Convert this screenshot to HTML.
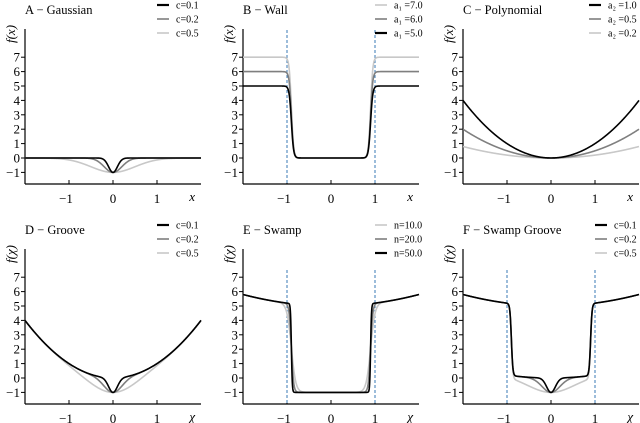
<!DOCTYPE html>
<html><head><meta charset="utf-8"><style>
html,body{margin:0;padding:0;background:#fff;}
svg{display:block;font-family:"Liberation Serif",serif;}
</style></head><body>
<svg id="chart" width="640" height="423" viewBox="0 0 640 423" xmlns="http://www.w3.org/2000/svg"></svg>
<script>
// ---- data ----
const yTicks = [-1,0,1,2,3,4,5,6,7];
const xTicks = [-1,0,1];
const gaussC = [0.1,0.2,0.5];
const wallA1 = [7.0,6.0,5.0];
const polyA2 = [1.0,0.5,0.2];
const grooveC = [0.1,0.2,0.5];
const swampN = [10.0,20.0,50.0];
const swampGrooveC = [0.1,0.2,0.5];

const NS='http://www.w3.org/2000/svg';
const svg=document.getElementById('chart');
function el(tag,attrs,parent){const e=document.createElementNS(NS,tag);for(const k in attrs)e.setAttribute(k,attrs[k]);(parent||svg).appendChild(e);return e;}
const sig=z=>1/(1+Math.exp(-z));
const shades={k:'#000',g:'#7f7f7f',l:'#c8c8c8'};

const panels=[
 {id:'a',title:'A − Gaussian',x0:25,row:0,params:gaussC,colors:['k','g','l'],leg:p=>'c='+p,xl:'x',
  f:(x,c)=>-Math.exp(-x*x/(2*c*c)),walls:false},
 {id:'b',title:'B − Wall',x0:243,row:0,params:wallA1,colors:['l','g','k'],leg:p=>'a₁ ='+p.toFixed(1),xl:'x',
  f:(x,a)=>a*sig(40*(Math.abs(x)-0.9)),walls:true},
 {id:'c',title:'C − Polynomial',x0:463,row:0,params:polyA2,colors:['k','g','l'],leg:p=>'a₂ ='+p.toFixed(1),xl:'x',
  f:(x,a)=>a*x*x,walls:false},
 {id:'d',title:'D − Groove',x0:25,row:1,params:grooveC,colors:['k','g','l'],leg:p=>'c='+p,xl:'χ',
  f:(x,c)=>x*x-Math.exp(-x*x/(2*c*c)),walls:false},
 {id:'e',title:'E − Swamp',x0:243,row:1,params:swampN,colors:['l','g','k'],leg:p=>'n='+p.toFixed(1),xl:'χ',
  f:(x,n)=>{const s=sig(2*n*(Math.abs(x)-0.9));return -1*(1-s)+(5+0.2*x*x)*s;},walls:true},
 {id:'f',title:'F − Swamp Groove',x0:463,row:1,params:swampGrooveC,colors:['k','g','l'],leg:p=>'c='+p,xl:'χ',
  f:(x,c)=>{const s=sig(60*(Math.abs(x)-0.9));const inner=0.2*x*x-Math.exp(-x*x/(2*c*c));return inner*(1-s)+(5+0.2*x*x)*s;},walls:true}
];

panels.forEach(P=>{
  const oy=P.row*220;
  const g=el('g',{});
  
  
  const X=v=>P.x0+(v+2)*44;
  const Y=v=>oy+158-v*14.4;
  const axB=oy+184;
  const ya=el('line',{x1:P.x0,y1:oy+29,x2:P.x0,y2:axB,stroke:'#000','stroke-width':1.2},g);
  
  const xa=el('line',{x1:P.x0,y1:axB,x2:Math.min(X(2),640),y2:axB,stroke:'#000','stroke-width':1.2},g);
  
  yTicks.forEach(t=>{
    el('line',{x1:P.x0-4,y1:Y(t),x2:P.x0,y2:Y(t),stroke:'#000','stroke-width':1},g);
    const tx=el('text',{x:P.x0-5,y:Y(t)+4.5,'font-size':13,'text-anchor':'end'},g);
    tx.textContent=t<0?'−'+(-t):String(t);
    
  });
  xTicks.forEach(t=>{
    el('line',{x1:X(t),y1:axB,x2:X(t),y2:axB-4,stroke:'#000','stroke-width':1},g);
    const tx=el('text',{x:X(t)+(t<0?-3:0),y:axB+19,'font-size':13,'text-anchor':'middle'},g);
    tx.textContent=t<0?'−'+(-t):String(t);
    
  });
  const xl=el('text',{x:X(1.8),y:axB+17,'font-size':13,'font-style':'italic','text-anchor':'middle'},g);
  xl.textContent=P.xl;
  const yl=el('text',{x:0,y:0,'font-size':13,'font-style':'italic','text-anchor':'middle',transform:`translate(${P.x0-10},${oy+34}) rotate(-90)`},g);
  yl.textContent='f('+P.xl+')';
  const ti=el('text',{x:P.x0,y:oy+14,'font-size':12.5},g);
  ti.textContent=P.title;
  if(P.walls){[-1,1].forEach(w=>{
    const wl=el('line',{x1:X(w),y1:oy+(P.id==='b'?30:50),x2:X(w),y2:axB,stroke:'#3a7ab5','stroke-width':1,'stroke-dasharray':'3,2'},g);
    
  });}
  // draw order: black on top
  const order=P.params.map((p,i)=>i);
  if(P.colors[0]==='k') order.reverse();
  order.forEach(i=>{
    const p=P.params[i];
    let d='';
    for(let k=0;k<=800;k++){const x=-2+4*k/800;let v=P.f(x,p);v=Math.max(-1.8,Math.min(9,v));d+=(k?'L':'M')+X(x).toFixed(2)+','+Y(v).toFixed(2);}
    const col=shades[P.colors[i]];
    const path=el('path',{d:d,fill:'none',stroke:col,'stroke-width':1.6},g);
    
  });
  P.params.forEach((p,i)=>{
    const col=shades[P.colors[i]];
    const ly=oy+5+i*14;
    const lx=P.x0+(P.id==='c'?126:132);
    el('line',{x1:lx,y1:ly,x2:lx+12,y2:ly,stroke:col,'stroke-width':col==='#000'?2.2:1.6},g);
    const lt=el('text',{x:lx+19,y:ly+3.5,'font-size':10},g);
    lt.textContent=P.leg(p);
    
  });
});
</script>
</body></html>
